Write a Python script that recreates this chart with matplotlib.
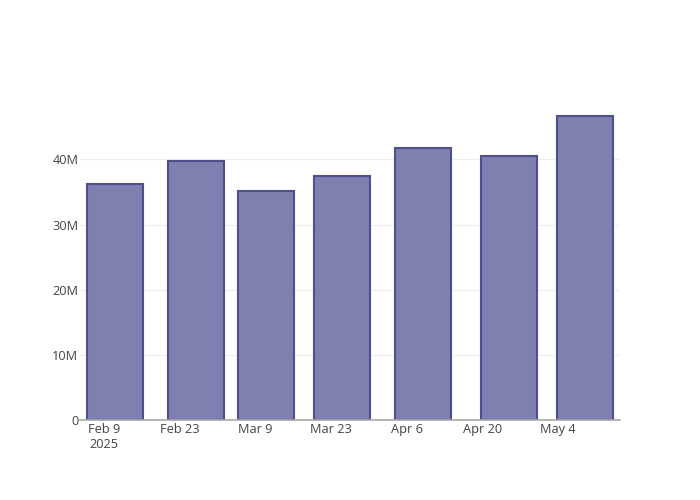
import matplotlib
matplotlib.use("Agg")
import matplotlib.pyplot as plt
import matplotlib.dates as mdates
import numpy as np
from datetime import datetime

plt.rcParams['font.family'] = ['Open Sans', 'DejaVu Sans']

# data
dates = ["2025-02-11", "2025-02-26", "2025-03-11", "2025-03-25",
         "2025-04-09", "2025-04-25", "2025-05-09"]
values = [36.3e6, 39.7e6, 35.2e6, 37.5e6, 41.7e6, 40.5e6, 46.6e6]
tick_dates = ["2025-02-09", "2025-02-23", "2025-03-09", "2025-03-23",
              "2025-04-06", "2025-04-20", "2025-05-04"]
tick_labels = ["Feb 9\n2025", "Feb 23", "Mar 9", "Mar 23", "Apr 6", "Apr 20", "May 4"]
y_ticks = [0, 10e6, 20e6, 30e6, 40e6]
y_labels = ["0", "10M", "20M", "30M", "40M"]

TEXT = "#444444"
FILL = "#7f7fb0"
EDGE = "#4f4f8e"

x = mdates.date2num([datetime.strptime(d, "%Y-%m-%d") for d in dates])
tx = mdates.date2num([datetime.strptime(d, "%Y-%m-%d") for d in tick_dates])
width = 0.8 * np.min(np.diff(x))

fig = plt.figure(figsize=(7, 5), dpi=100)
ax = fig.add_axes([80/700, 80/500, 540/700, 320/500])

ax.bar(x, values, width=width, color=FILL, edgecolor=EDGE, linewidth=1.5, zorder=3)

pad = 1.3
ax.set_xlim(x[0] - width/2 - pad, x[-1] + width/2 + pad)
ax.set_ylim(0, max(values) * 1.054)

ax.set_xticks(tx)
ax.set_xticklabels(tick_labels, ha='center', fontsize=9.2, color=TEXT, linespacing=1.15)
ax.tick_params(axis='x', length=0, pad=2.5)

ax.set_yticks(y_ticks)
ax.set_yticklabels(y_labels, fontsize=9.2, color=TEXT)
ax.tick_params(axis='y', length=0, pad=1.2)
ax.yaxis.grid(True, color="#eeeeee", linewidth=0.8, zorder=0)
ax.set_axisbelow(True)

for s in ['top', 'right', 'left']:
    ax.spines[s].set_visible(False)
ax.spines['bottom'].set_color("#a8a8a8")
ax.spines['bottom'].set_linewidth(1.2)
ax.spines['bottom'].set_zorder(4)

fig.savefig("out.png", dpi=100, facecolor="white")
